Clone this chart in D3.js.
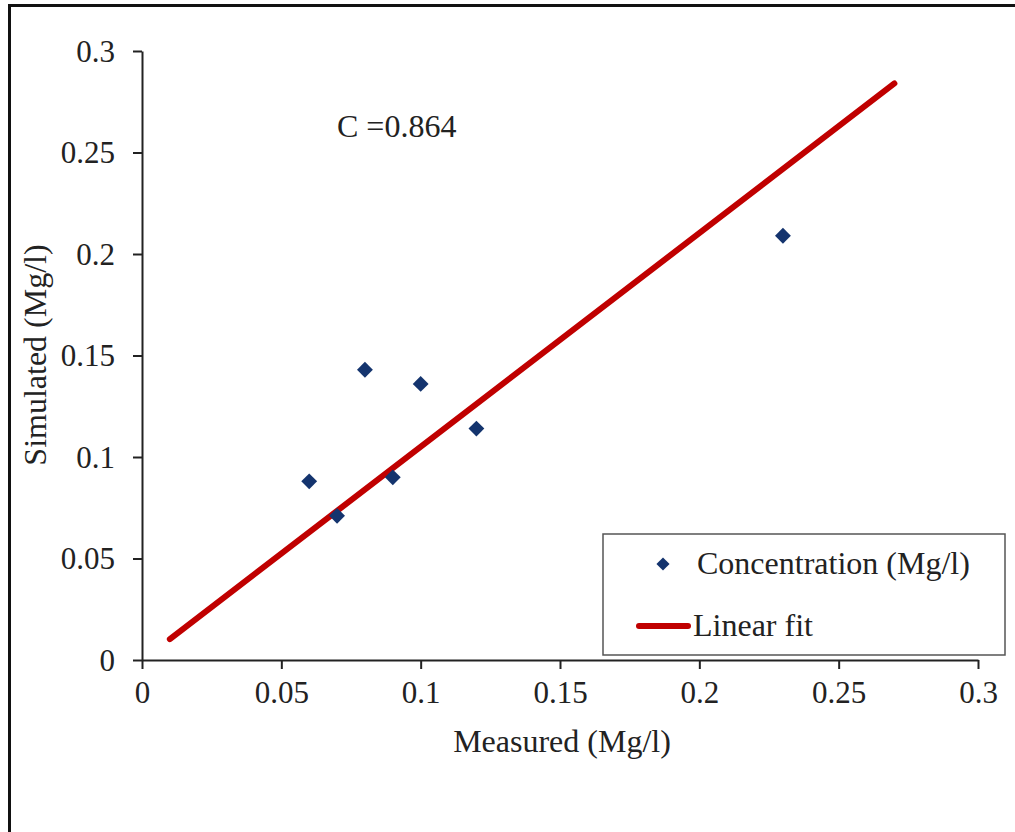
<!DOCTYPE html>
<html>
<head>
<meta charset="utf-8">
<script src="https://cdn.jsdelivr.net/npm/d3@7"></script>
<style>
  body { margin: 0; background: #fff; }
</style>
</head>
<body>
<div id="chart"></div>
<script>
// data
const measured = [0.06, 0.07, 0.08, 0.09, 0.10, 0.12, 0.23];
const simulated = [0.088, 0.071, 0.143, 0.090, 0.136, 0.114, 0.209];
const fitX = [0.01, 0.27];
const fitY = [0.0103, 0.284];
const xTicks = [0, 0.05, 0.1, 0.15, 0.2, 0.25, 0.3];
const yTicks = [0, 0.05, 0.1, 0.15, 0.2, 0.25, 0.3];
const corrLabel = "C =0.864";

const W = 1015, H = 832;
const FONT = "Liberation Serif";
const INK = "#222";

const svg = d3.select("#chart").append("svg")
  .attr("width", W)
  .attr("height", H);

// frame round the figure (runs off right and bottom)
svg.append("rect")
  .attr("x", 9.5).attr("y", 5.5)
  .attr("width", W + 20).attr("height", H + 20)
  .attr("fill", "none")
  .attr("stroke", "#111")
  .attr("stroke-width", 3);

const x = d3.scaleLinear().domain([0, 0.3]).range([142, 978]);
const y = d3.scaleLinear().domain([0, 0.3]).range([660, 51]);

const fmt = d => d === 0 ? "0" : String(d);

// Axes
const xAxis = svg.append("g")
  .attr("transform", `translate(0,660)`)
  .call(d3.axisBottom(x).tickValues(xTicks).tickFormat(fmt).tickSize(9).tickSizeOuter(0).tickPadding(12));

const yAxis = svg.append("g")
  .attr("transform", `translate(142,0)`)
  .call(d3.axisLeft(y).tickValues(yTicks).tickFormat(fmt).tickSize(9).tickSizeOuter(0).tickPadding(18));

[xAxis, yAxis].forEach(g => {
  g.attr("font-family", FONT).attr("font-size", 31);
  g.selectAll("path, line").attr("stroke", INK).attr("stroke-width", 2);
  g.selectAll("text").attr("fill", INK);
});
yAxis.selectAll("text").attr("dy", "0.33em");

function label(sel, size) {
  return sel.attr("font-family", FONT).attr("font-size", size).attr("fill", INK);
}

// Axis Labels
label(svg.append("text"), 32)
  .attr("text-anchor", "middle")
  .attr("x", 562)
  .attr("y", 752)
  .text("Measured (Mg/l)");

label(svg.append("text"), 32)
  .attr("text-anchor", "middle")
  .attr("transform", "rotate(-90)")
  .attr("x", -355)
  .attr("y", 46)
  .text("Simulated (Mg/l)");

// linear fit
svg.append("line")
  .attr("x1", x(fitX[0])).attr("y1", y(fitY[0]))
  .attr("x2", x(fitX[1])).attr("y2", y(fitY[1]))
  .attr("stroke", "#c00000")
  .attr("stroke-width", 6)
  .attr("stroke-linecap", "round");

// points
const diamond = d3.symbol().type(d3.symbolDiamond2).size(160);
svg.selectAll("path.pt")
  .data(measured.map((m, i) => [m, simulated[i]]))
  .enter()
  .append("path")
  .attr("class", "pt")
  .attr("d", diamond)
  .attr("transform", d => `translate(${x(d[0])},${y(d[1])})`)
  .attr("fill", "#14346e");

label(svg.append("text"), 32)
  .attr("x", 337)
  .attr("y", 137)
  .text(corrLabel);

// Legend
const legend = svg.append("g");
legend.append("rect")
  .attr("x", 603).attr("y", 534)
  .attr("width", 402).attr("height", 121)
  .attr("fill", "#fff")
  .attr("stroke", "#555")
  .attr("stroke-width", 1.5);

legend.append("path")
  .attr("d", d3.symbol().type(d3.symbolDiamond2).size(110))
  .attr("transform", "translate(663,564)")
  .attr("fill", "#14346e");
label(legend.append("text"), 32)
  .attr("x", 697).attr("y", 574)
  .text("Concentration (Mg/l)");

legend.append("line")
  .attr("x1", 639).attr("x2", 688)
  .attr("y1", 626).attr("y2", 626)
  .attr("stroke", "#c00000")
  .attr("stroke-width", 6)
  .attr("stroke-linecap", "round");
label(legend.append("text"), 32)
  .attr("x", 693).attr("y", 636)
  .text("Linear fit");
</script>
</body>
</html>
